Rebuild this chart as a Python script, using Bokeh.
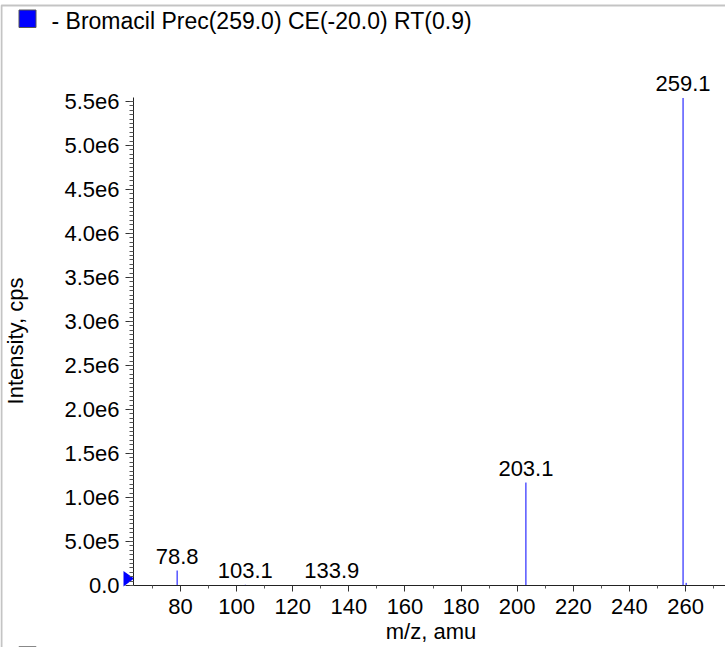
import math
from bokeh.plotting import figure
from bokeh.models import (ColumnDataSource, LabelSet, Label, FixedTicker,
                          BoxAnnotation, Range1d)
from bokeh.core.properties import value
from bokeh.embed import file_html
from bokeh.resources import INLINE

# ---------------- data ----------------
peak_mz = [78.8, 103.1, 133.9, 203.1, 259.1, 260.2]
peak_intensity = [1.70e5, 8.0e3, 6.0e3, 1.17e6, 5.54e6, 3.0e4]

label_mz = [78.8, 103.1, 133.9, 203.1, 259.1]
label_intensity = [1.70e5, 8.0e3, 6.0e3, 1.17e6, 5.54e6]
label_text = ["78.8", "103.1", "133.9", "203.1", "259.1"]

x_ticks = [80, 100, 120, 140, 160, 180, 200, 220, 240, 260]
x_tick_labels = ["80", "100", "120", "140", "160", "180", "200", "220", "240", "260"]
x_minor_ticks = [70, 90, 110, 130, 150, 170, 190, 210, 230, 250, 270]

y_ticks = [0, 5e5, 1e6, 1.5e6, 2e6, 2.5e6, 3e6, 3.5e6, 4e6, 4.5e6, 5e6, 5.5e6]
y_tick_labels = ["0.0", "5.0e5", "1.0e6", "1.5e6", "2.0e6", "2.5e6", "3.0e6",
                 "3.5e6", "4.0e6", "4.5e6", "5.0e6", "5.5e6"]
y_minor_ticks = [i * 5e4 for i in range(0, 111)]

series_name = "- Bromacil Prec(259.0) CE(-20.0) RT(0.9)"
x_title = "m/z, amu"
y_title = "Intensity, cps"

# ---------------- layout (pixel geometry of the panel) ----------------
W, H = 725, 647
AX_LEFT, AX_TOP, AX_BOTTOM = 133, 97, 585   # plot area edges in px
SX = 2.806                                  # px per m/z unit
SY = 88e-6                                  # px per cps
FONT = "Liberation Sans"
BLUE = "#0000ff"


def dx(px):
    return 80 + (px - 180) / SX


def dy(py):
    return (AX_BOTTOM - py) / SY


p = figure(width=W, height=H, output_backend="svg", toolbar_location=None,
           title=None, x_range=Range1d(dx(0), dx(W)), y_range=Range1d(dy(H), dy(0)),
           min_border=0)
p.grid.visible = False
p.outline_line_color = None
p.background_fill_color = "white"
p.border_fill_color = "white"

# panel border (left / top)
p.add_layout(BoxAnnotation(left=dx(1), right=dx(W + 50), top=dy(5), bottom=dy(H + 50),
                           fill_alpha=0, line_color="#3a3a3a", line_width=2))

# spectrum sticks
src = ColumnDataSource(dict(x=peak_mz, y=peak_intensity, y0=[0] * len(peak_mz)))
p.segment(x0="x", y0="y0", x1="x", y1="y", source=src, line_color=BLUE, line_width=1)

lsrc = ColumnDataSource(dict(x=label_mz, y=label_intensity, t=label_text))
p.add_layout(LabelSet(x="x", y="y", text="t", source=lsrc, y_offset=7,
                      text_align="center", text_baseline="alphabetic",
                      text_font=value(FONT), text_font_size="22px",
                      text_color="black"))

# axes, placed at the plot-area edges
xa = p.xaxis[0]
xa.ticker = FixedTicker(ticks=x_ticks, minor_ticks=x_minor_ticks)
xa.major_label_overrides = dict(zip(x_ticks, x_tick_labels))
xa.fixed_location = 0
xa.bounds = (dx(AX_LEFT), dx(W))
ya = p.yaxis[0]
ya.ticker = FixedTicker(ticks=y_ticks, minor_ticks=y_minor_ticks)
ya.major_label_overrides = dict(zip(y_ticks, y_tick_labels))
ya.fixed_location = dx(AX_LEFT)
ya.bounds = (0, dy(AX_TOP))

for ax in (xa, ya):
    ax.axis_line_color = "#222222"
    ax.major_tick_line_color = "#333333"
    ax.minor_tick_line_color = "#555555"
    ax.major_tick_in = 0
    ax.minor_tick_in = 0
    ax.major_label_text_font = FONT
    ax.major_label_text_font_size = "22px"
    ax.major_label_text_color = "black"
xa.major_tick_out = 6
xa.minor_tick_out = 3
xa.major_label_standoff = 7
ya.major_tick_out = 8
ya.minor_tick_out = 4
ya.major_label_standoff = 6

# axis titles (Label anchors sit ~9px above/left of the drawn baseline)
p.add_layout(Label(x=dx(430.5), y=dy(631), text=x_title, text_align="center",
                   text_baseline="alphabetic", text_font=FONT,
                   text_font_size="22px", text_color="black"))
p.add_layout(Label(x=dx(15), y=dy(340.5), text=y_title, angle=math.pi / 2,
                   text_align="center", text_baseline="alphabetic", text_font=FONT,
                   text_font_size="22px", text_color="black"))

# legend entry (top)
p.add_layout(BoxAnnotation(left=dx(18.5), right=dx(35.5), top=dy(9.5), bottom=dy(27.0),
                           fill_color=BLUE, fill_alpha=1.0,
                           line_color="#555555", line_width=1, line_alpha=1.0))
p.add_layout(Label(x=dx(51), y=dy(20), text=series_name, text_align="left",
                   text_baseline="alphabetic", text_font=FONT,
                   text_font_size="23px", text_color="black"))
# next legend entry, only its top edge visible at the bottom
p.add_layout(BoxAnnotation(left=dx(18.5), right=dx(35.5), top=dy(646), bottom=dy(664),
                           fill_color="white", fill_alpha=1.0,
                           line_color="#888888", line_width=1, line_alpha=1.0))

# blue triangle marker at the y-axis origin
tri_px = [(123, 570.5), (133.5, 578), (123, 586)]
p.patch([dx(a) for a, b in tri_px], [dy(b) for a, b in tri_px],
        fill_color=BLUE, line_color=None)

open("out.html", "w").write(file_html(p, INLINE))
